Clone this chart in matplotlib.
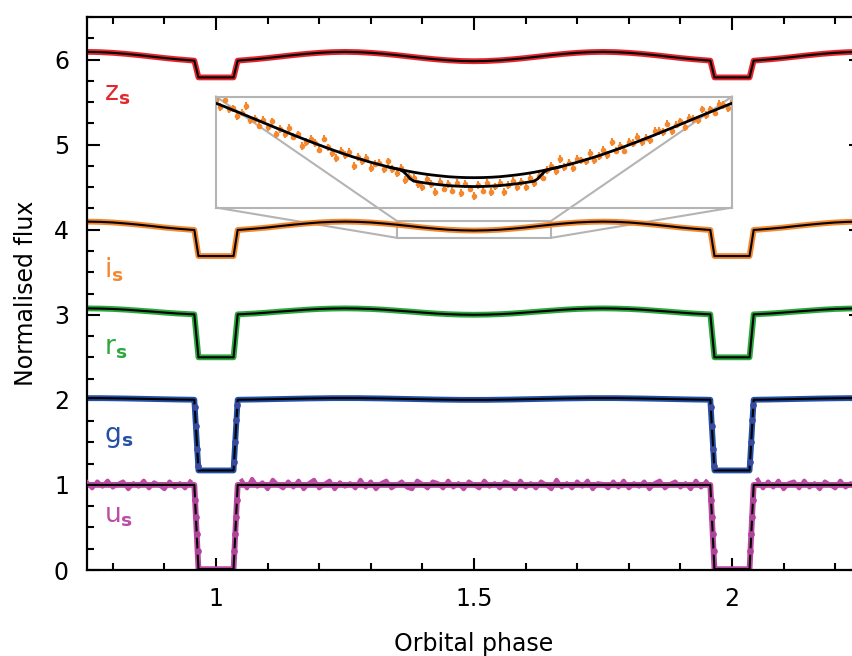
import numpy as np
import matplotlib
matplotlib.use("Agg")
import matplotlib.pyplot as plt
from matplotlib.patches import Rectangle
from matplotlib.ticker import MultipleLocator

plt.rcParams['font.family'] = ['DejaVu Sans']
plt.rcParams['mathtext.fontset'] = 'custom'
plt.rcParams['mathtext.rm'] = 'DejaVu Sans'
plt.rcParams['mathtext.bf'] = 'DejaVu Sans:bold'

# ---------------- data ----------------
phase = [0.75, 0.775, 0.8, 0.825, 0.85, 0.875, 0.9, 0.925, 0.95, 0.958, 0.966, 1.034, 1.042,
         1.05, 1.075, 1.1, 1.125, 1.15, 1.175, 1.2, 1.225, 1.25,
         1.275, 1.3, 1.325, 1.35, 1.375, 1.4, 1.425, 1.45, 1.475, 1.5,
         1.525, 1.55, 1.575, 1.6, 1.625, 1.65, 1.675, 1.7, 1.725, 1.75,
         1.775, 1.8, 1.825, 1.85, 1.875, 1.9, 1.925, 1.95,
         1.958, 1.966, 2.034, 2.042,
         2.05, 2.075, 2.1, 2.125, 2.15, 2.175, 2.2, 2.225, 2.25]

z_flux = [6.090, 6.087, 6.079, 6.067, 6.052, 6.035, 6.018, 6.003, 5.991, 5.987, 5.790, 5.790, 5.987,
          5.991, 6.003, 6.018, 6.035, 6.052, 6.067, 6.079, 6.087, 6.090,
          6.087, 6.079, 6.067, 6.052, 6.035, 6.018, 6.003, 5.991, 5.983, 5.980,
          5.983, 5.991, 6.003, 6.018, 6.035, 6.052, 6.067, 6.079, 6.087, 6.090,
          6.087, 6.079, 6.067, 6.052, 6.035, 6.018, 6.003, 5.991,
          5.987, 5.790, 5.790, 5.987,
          5.991, 6.003, 6.018, 6.035, 6.052, 6.067, 6.079, 6.087, 6.090]

i_flux = [4.095, 4.092, 4.085, 4.073, 4.059, 4.043, 4.026, 4.012, 4.000, 3.997, 3.690, 3.690, 3.997,
          4.000, 4.012, 4.026, 4.043, 4.059, 4.073, 4.085, 4.092, 4.095,
          4.092, 4.085, 4.073, 4.059, 4.043, 4.026, 4.012, 4.000, 3.993, 3.990,
          3.993, 4.000, 4.012, 4.026, 4.043, 4.059, 4.073, 4.085, 4.092, 4.095,
          4.092, 4.085, 4.073, 4.059, 4.043, 4.026, 4.012, 4.000,
          3.997, 3.690, 3.690, 3.997,
          4.000, 4.012, 4.026, 4.043, 4.059, 4.073, 4.085, 4.092, 4.095]

r_flux = [3.075, 3.073, 3.068, 3.060, 3.049, 3.038, 3.026, 3.015, 3.007, 3.005, 2.500, 2.500, 3.005,
          3.007, 3.015, 3.026, 3.038, 3.049, 3.060, 3.068, 3.073, 3.075,
          3.073, 3.068, 3.060, 3.049, 3.038, 3.026, 3.015, 3.007, 3.002, 3.000,
          3.002, 3.007, 3.015, 3.026, 3.038, 3.049, 3.060, 3.068, 3.073, 3.075,
          3.073, 3.068, 3.060, 3.049, 3.038, 3.026, 3.015, 3.007,
          3.005, 2.500, 2.500, 3.005,
          3.007, 3.015, 3.026, 3.038, 3.049, 3.060, 3.068, 3.073, 3.075]

g_flux = [2.020, 2.020, 2.018, 2.016, 2.013, 2.010, 2.007, 2.004, 2.002, 2.001, 1.170, 1.170, 2.001,
          2.002, 2.004, 2.007, 2.010, 2.013, 2.016, 2.018, 2.020, 2.020,
          2.020, 2.018, 2.016, 2.013, 2.010, 2.007, 2.004, 2.002, 2.000, 2.000,
          2.000, 2.002, 2.004, 2.007, 2.010, 2.013, 2.016, 2.018, 2.020, 2.020,
          2.020, 2.018, 2.016, 2.013, 2.010, 2.007, 2.004, 2.002,
          2.001, 1.170, 1.170, 2.001,
          2.002, 2.004, 2.007, 2.010, 2.013, 2.016, 2.018, 2.020, 2.020]

u_flux = [1.0] * 10 + [0.01, 0.01] + [1.0] * 39 + [0.01, 0.01] + [1.0] * 10

# noisy u-band observations (out of eclipse)
u_obs_phase_a = [0.75, 0.76, 0.77, 0.78, 0.79, 0.80, 0.81, 0.82, 0.83, 0.84, 0.85,
                 0.86, 0.87, 0.88, 0.89, 0.90, 0.91, 0.92, 0.93, 0.94, 0.95]
u_obs_flux_a = [1.03, 0.96, 1.04, 0.98, 1.05, 0.97, 1.01, 1.04, 0.95, 1.02, 0.98,
                1.05, 0.96, 1.03, 1.00, 0.95, 1.04, 0.97, 1.02, 0.96, 1.04]
u_obs_phase_b = [1.05, 1.06, 1.07, 1.08, 1.09, 1.10, 1.11, 1.12, 1.13, 1.14,
                 1.15, 1.16, 1.17, 1.18, 1.19, 1.20, 1.21, 1.22, 1.23, 1.24,
                 1.25, 1.26, 1.27, 1.28, 1.29, 1.30, 1.31, 1.32, 1.33, 1.34,
                 1.35, 1.36, 1.37, 1.38, 1.39, 1.40, 1.41, 1.42, 1.43, 1.44,
                 1.45, 1.46, 1.47, 1.48, 1.49, 1.50, 1.51, 1.52, 1.53, 1.54,
                 1.55, 1.56, 1.57, 1.58, 1.59, 1.60, 1.61, 1.62, 1.63, 1.64,
                 1.65, 1.66, 1.67, 1.68, 1.69, 1.70, 1.71, 1.72, 1.73, 1.74,
                 1.75, 1.76, 1.77, 1.78, 1.79, 1.80, 1.81, 1.82, 1.83, 1.84,
                 1.85, 1.86, 1.87, 1.88, 1.89, 1.90, 1.91, 1.92, 1.93, 1.94,
                 1.95]
u_obs_flux_b = [1.05, 0.96, 1.07, 0.98, 1.03, 0.95, 1.06, 1.00, 0.96, 1.04,
                0.97, 1.05, 0.95, 1.02, 1.06, 0.96, 1.01, 1.05, 0.95, 1.03,
                0.98, 1.02, 0.96, 1.06, 0.97, 1.04, 0.95, 1.02, 1.05, 0.96,
                1.00, 1.04, 0.97, 0.95, 1.05, 1.01, 0.96, 1.04, 1.02, 0.96,
                1.05, 0.97, 1.02, 0.95, 1.04, 1.00, 0.96, 1.05, 0.98, 1.02,
                0.96, 1.04, 1.01, 0.95, 1.05, 0.97, 1.02, 0.96, 1.04, 1.00,
                0.95, 1.06, 0.97, 1.02, 0.96, 1.04, 0.98, 1.05, 0.95, 1.02,
                1.01, 0.96, 1.04, 0.97, 1.05, 0.96, 1.02, 0.98, 1.04, 0.95,
                1.02, 1.05, 0.96, 1.01, 1.04, 0.97, 1.02, 0.95, 1.05, 0.97,
                1.04]
u_obs_phase_c = [2.05, 2.06, 2.07, 2.08, 2.09, 2.10, 2.11, 2.12, 2.13, 2.14, 2.15,
                 2.16, 2.17, 2.18, 2.19, 2.20, 2.21, 2.22, 2.23, 2.24, 2.25]
u_obs_flux_c = [1.06, 0.96, 1.04, 0.97, 1.05, 0.95, 1.02, 1.04, 0.96, 1.05, 0.97,
                1.02, 0.95, 1.04, 1.00, 0.96, 1.05, 0.97, 1.02, 0.96, 1.04]

# ingress / egress points
g_dot_phase = [0.9588, 0.9610, 0.9636, 0.9655, 1.0350, 1.0373, 1.0397, 1.0414,
               1.9588, 1.9610, 1.9636, 1.9655, 2.0350, 2.0373, 2.0397, 2.0414]
g_dot_flux = [1.92, 1.69, 1.42, 1.22, 1.27, 1.51, 1.76, 1.94,
              1.92, 1.69, 1.42, 1.22, 1.27, 1.51, 1.76, 1.94]
u_dot_phase = [0.9595, 0.9611, 0.9627, 0.9643, 1.0357, 1.0373, 1.0389, 1.0405,
               1.9595, 1.9611, 1.9627, 1.9643, 2.0357, 2.0373, 2.0389, 2.0405]
u_dot_flux = [0.82, 0.62, 0.42, 0.22, 0.22, 0.42, 0.62, 0.82,
              0.82, 0.62, 0.42, 0.22, 0.22, 0.42, 0.62, 0.82]

# inset (zoom on i band around phase 1.5)
inset_obs_phase = [1.3500, 1.3525, 1.3550, 1.3575, 1.3600, 1.3625, 1.3650, 1.3675, 1.3700, 1.3725,
                   1.3750, 1.3775, 1.3800, 1.3825, 1.3850, 1.3875, 1.3900, 1.3925, 1.3950, 1.3975,
                   1.4000, 1.4025, 1.4050, 1.4075, 1.4100, 1.4125, 1.4150, 1.4175, 1.4200, 1.4225,
                   1.4250, 1.4275, 1.4300, 1.4325, 1.4350, 1.4375, 1.4400, 1.4425, 1.4450, 1.4475,
                   1.4500, 1.4525, 1.4550, 1.4575, 1.4600, 1.4625, 1.4650, 1.4675, 1.4700, 1.4725,
                   1.4750, 1.4775, 1.4800, 1.4825, 1.4850, 1.4875, 1.4900, 1.4925, 1.4950, 1.4975,
                   1.5000, 1.5025, 1.5050, 1.5075, 1.5100, 1.5125, 1.5150, 1.5175, 1.5200, 1.5225,
                   1.5250, 1.5275, 1.5300, 1.5325, 1.5350, 1.5375, 1.5400, 1.5425, 1.5450, 1.5475,
                   1.5500, 1.5525, 1.5550, 1.5575, 1.5600, 1.5625, 1.5650, 1.5675, 1.5700, 1.5725,
                   1.5750, 1.5775, 1.5800, 1.5825, 1.5850, 1.5875, 1.5900, 1.5925, 1.5950, 1.5975,
                   1.6000, 1.6025, 1.6050, 1.6075, 1.6100, 1.6125, 1.6150, 1.6175, 1.6200, 1.6225,
                   1.6250, 1.6275, 1.6300, 1.6325, 1.6350, 1.6375, 1.6400, 1.6425, 1.6450, 1.6475,
                   1.6500]
inset_obs_flux = [4.062, 4.055, 4.062, 4.053, 4.054, 4.047, 4.050, 4.056, 4.043, 4.044,
                  4.038, 4.043, 4.037, 4.042, 4.030, 4.035, 4.030, 4.036, 4.028, 4.030,
                  4.019, 4.023, 4.026, 4.022, 4.016, 4.026, 4.018, 4.013, 4.008, 4.015,
                  4.011, 4.014, 4.001, 4.009, 4.005, 4.008, 3.999, 4.003, 4.004, 3.998,
                  4.005, 3.998, 3.994, 3.999, 3.988, 3.991, 3.990, 3.984, 3.981, 3.989,
                  3.984, 3.977, 3.986, 3.980, 3.984, 3.978, 3.985, 3.976, 3.984, 3.980,
                  3.973, 3.983, 3.978, 3.985, 3.977, 3.982, 3.985, 3.977, 3.983, 3.987,
                  3.981, 3.986, 3.981, 3.990, 3.985, 3.992, 3.990, 3.997, 4.001, 3.996,
                  4.007, 4.000, 4.004, 3.999, 4.007, 4.006, 4.005, 4.013, 4.006, 4.010,
                  4.016, 4.011, 4.023, 4.015, 4.019, 4.015, 4.023, 4.022, 4.028, 4.023,
                  4.027, 4.025, 4.033, 4.033, 4.032, 4.040, 4.033, 4.039, 4.042, 4.037,
                  4.045, 4.044, 4.043, 4.053, 4.048, 4.053, 4.050, 4.058, 4.057, 4.054,
                  4.061]
inset_obs_err = 0.0035

inset_model_phase = [1.350, 1.355, 1.360, 1.365, 1.370, 1.375, 1.380, 1.385, 1.390, 1.395,
                     1.400, 1.405, 1.410, 1.415, 1.420, 1.425, 1.430, 1.435, 1.440, 1.445,
                     1.450, 1.455, 1.460, 1.465, 1.470, 1.475, 1.480, 1.485, 1.490, 1.495,
                     1.500, 1.505, 1.510, 1.515, 1.520, 1.525, 1.530, 1.535, 1.540, 1.545,
                     1.550, 1.555, 1.560, 1.565, 1.570, 1.575, 1.580, 1.585, 1.590, 1.595,
                     1.600, 1.605, 1.610, 1.615, 1.620, 1.625, 1.630, 1.635, 1.640, 1.645,
                     1.650]
inset_model_flux = [4.0587, 4.0556, 4.0523, 4.0491, 4.0458, 4.0425, 4.0392, 4.0359, 4.0327, 4.0294,
                    4.0263, 4.0232, 4.0202, 4.0172, 4.0144, 4.0116, 4.0090, 4.0066, 4.0042, 4.0021,
                    4.0000, 3.9982, 3.9965, 3.9950, 3.9937, 3.9926, 3.9917, 3.9909, 3.9904, 3.9901,
                    3.9900, 3.9901, 3.9904, 3.9909, 3.9917, 3.9926, 3.9937, 3.9950, 3.9965, 3.9982,
                    4.0000, 4.0021, 4.0042, 4.0066, 4.0090, 4.0116, 4.0144, 4.0172, 4.0202, 4.0232,
                    4.0263, 4.0294, 4.0327, 4.0359, 4.0392, 4.0425, 4.0458, 4.0491, 4.0523, 4.0556,
                    4.0587]
inset_ecl_phase = [1.450, 1.455, 1.457, 1.459, 1.461, 1.463, 1.465, 1.470, 1.475, 1.480,
                   1.485, 1.490, 1.495, 1.500, 1.505, 1.510, 1.515, 1.520, 1.525, 1.530,
                   1.535, 1.537, 1.539, 1.541, 1.543, 1.545, 1.550]
inset_ecl_flux = [4.0000, 3.9982, 3.9974, 3.9955, 3.9924, 3.9889, 3.9868, 3.9855, 3.9844, 3.9835,
                  3.9827, 3.9822, 3.9819, 3.9818, 3.9819, 3.9822, 3.9827, 3.9835, 3.9844, 3.9855,
                  3.9868, 3.9889, 3.9924, 3.9955, 3.9974, 3.9982, 4.0000]

band_names = [r'$\mathrm{z}_{\mathbf{s}}$', r'$\mathrm{i}_{\mathbf{s}}$', r'$\mathrm{r}_{\mathbf{s}}$',
              r'$\mathrm{g}_{\mathbf{s}}$', r'$\mathrm{u}_{\mathbf{s}}$']
band_label_y = [5.52, 3.435, 2.53, 1.50, 0.553]
band_colors = ['#e6262d', '#f5872d', '#2aa83c', '#2350a5', '#bb4ba3']

# inset geometry (data coordinates of main axes)
inset_box = [1.0, 4.26, 1.0, 1.305]      # x0, y0, width, height
zoom_box = [1.35, 3.905, 0.30, 0.20]      # x0, y0, width, height
inset_ylim = (3.9624, 4.0649)

# ---------------- figure ----------------
fig = plt.figure(figsize=(8.52, 6.56), dpi=100)
ax = fig.add_axes([87 / 852, 86 / 656, 774 / 852, 553 / 656])

all_flux = [z_flux, i_flux, r_flux, g_flux, u_flux]
for flux, col in zip(all_flux, band_colors):
    ax.plot(phase, flux, color=col, lw=4.2, zorder=2, solid_joinstyle='round')

for ph, fl in [(u_obs_phase_a, u_obs_flux_a), (u_obs_phase_b, u_obs_flux_b), (u_obs_phase_c, u_obs_flux_c)]:
    ax.plot(ph, fl, color=band_colors[4], lw=3.0, zorder=3)

for flux in all_flux:
    ax.plot(phase, flux, color='black', lw=1.5, zorder=4)

ax.plot(g_dot_phase, g_dot_flux, 'o', color='#3a4a9e', ms=3.8, zorder=5)
ax.plot(u_dot_phase, u_dot_flux, 'o', color='#b0449a', ms=3.8, zorder=5)

for name, ly, col in zip(band_names, band_label_y, band_colors):
    ax.text(0.782, ly, name, color=col, fontsize=19, va='baseline', ha='left')

# zoom box and connector lines
gray = '#b4b4b4'
ax.add_patch(Rectangle((zoom_box[0], zoom_box[1]), zoom_box[2], zoom_box[3],
                       fill=False, ec=gray, lw=1.5, zorder=1))
ix0, iy0, iw, ih = inset_box
zx0, zy0, zw, zh = zoom_box
ax.plot([ix0, zx0], [iy0 + ih, zy0 + zh], color=gray, lw=1.5, zorder=1)
ax.plot([ix0, zx0], [iy0, zy0], color=gray, lw=1.5, zorder=1)
ax.plot([ix0 + iw, zx0 + zw], [iy0 + ih, zy0 + zh], color=gray, lw=1.5, zorder=1)
ax.plot([ix0 + iw, zx0 + zw], [iy0, zy0], color=gray, lw=1.5, zorder=1)

axins = ax.inset_axes(inset_box, transform=ax.transData)
axins.set_facecolor('none')
for sp in axins.spines.values():
    sp.set_color(gray)
    sp.set_linewidth(1.5)
axins.set_xticks([])
axins.set_yticks([])
axins.errorbar(inset_obs_phase, inset_obs_flux, yerr=inset_obs_err, fmt='o', ms=3,
               color=band_colors[1], elinewidth=1.5, capsize=0, zorder=2)
axins.plot(inset_model_phase, inset_model_flux, color='black', lw=2.0, zorder=3)
axins.plot(inset_ecl_phase, inset_ecl_flux, color='black', lw=2.0, zorder=3)
axins.set_xlim(zoom_box[0], zoom_box[0] + zoom_box[2])
axins.set_ylim(*inset_ylim)

# axes styling
ax.set_xlim(0.75, 2.25)
ax.set_ylim(0, 6.5)
ax.xaxis.set_minor_locator(MultipleLocator(0.1))
ax.yaxis.set_major_locator(MultipleLocator(1))
ax.yaxis.set_minor_locator(MultipleLocator(0.25))
ax.set_xticks([1, 1.5, 2])
ax.set_xticklabels(['1', '1.5', '2'])
ax.tick_params(which='both', direction='in', top=True, right=True, width=1.5, labelsize=17)
ax.tick_params(which='major', length=9)
ax.tick_params(which='minor', length=5)
ax.tick_params(axis='x', pad=12)
ax.tick_params(axis='y', pad=13)
for sp in ax.spines.values():
    sp.set_linewidth(1.6)

ax.set_xlabel('Orbital phase', fontsize=17, labelpad=15)
ax.set_ylabel('Normalised flux', fontsize=17, labelpad=11)

fig.savefig('out.png', dpi=100)
